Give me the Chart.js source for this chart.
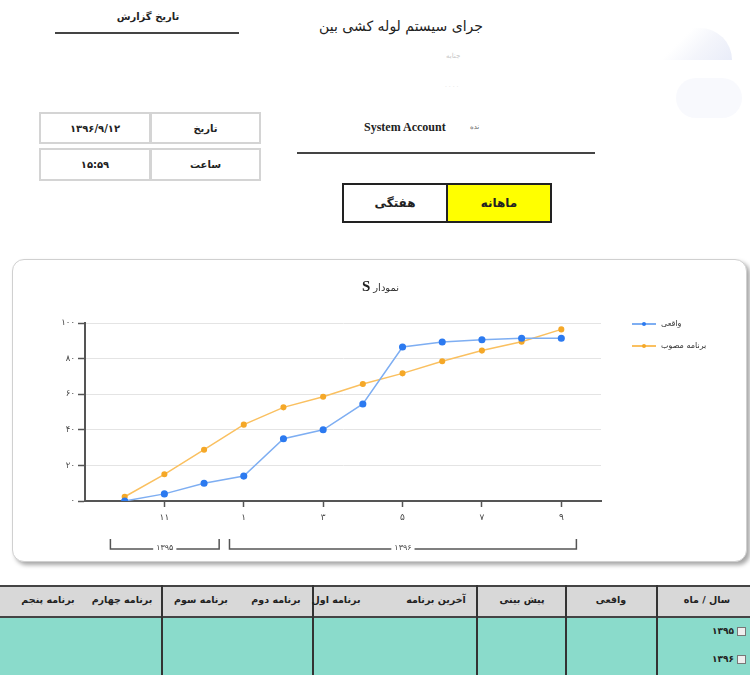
<!DOCTYPE html>
<html lang="fa">
<head>
<meta charset="utf-8">
<title>نمودار S</title>
<script src="https://cdn.jsdelivr.net/npm/chart.js@4.4.1/dist/chart.umd.min.js"></script>
<style>
    html, body { margin: 0; padding: 0; background: #fff; }
    body {
        width: 750px; height: 675px; position: relative; overflow: hidden;
        font-family: "DejaVu Sans", Tahoma, sans-serif; color: #222;
    }
    .abs { position: absolute; }
    .center { display: flex; align-items: center; justify-content: center; }
    .rule { position: absolute; height: 2px; background: #444; }
    .info-cell {
        position: absolute; box-sizing: border-box; border: 2px solid #d4d4d4;
        font-size: 10px; font-weight: bold; direction: rtl;
    }
    .btn {
        position: absolute; box-sizing: border-box; border: 2px solid #222;
        font-size: 12px; font-weight: bold; direction: rtl;
    }
    .card {
        position: absolute; left: 12px; top: 259px; width: 735px; height: 303px;
        box-sizing: border-box; border: 1px solid #d0d0d0; border-radius: 12px;
        background: #fff; box-shadow: 3px 3px 4px rgba(0, 0, 0, 0.35);
    }
    .card canvas { position: absolute; left: 0; top: 0; }
    .grid-head { position: absolute; left: 0; top: 585px; width: 750px; height: 31px; background: #d8d8d8; border-top: 2px solid #444; box-sizing: border-box; }
    .grid-body { position: absolute; left: 0; top: 616px; width: 750px; height: 59px; background: #8adbcb; border-top: 2px solid #444; box-sizing: border-box; }
    .vline { position: absolute; top: 585px; width: 2px; height: 90px; background: #333; }
    .th { position: absolute; top: 594px; width: 90px; margin-left: -45px; text-align: center; font-size: 9.5px; font-weight: bold; direction: rtl; white-space: nowrap; }
    .td { position: absolute; font-size: 9px; font-weight: bold; direction: ltr; white-space: nowrap; }
    .plus { display: inline-block; width: 7px; height: 7px; border: 1px solid #777; background: #eee; vertical-align: middle; margin-left: 3px; }
</style>
</head>
<body>

<!-- report header -->
<div class="abs center" style="left:90px; top:8px; width:116px; height:16px; font-size:10px; font-weight:bold; direction:rtl;">تاریخ گزارش</div>
<div class="rule" style="left:55px; top:32px; width:184px;"></div>

<div class="abs" style="left:300px; top:18px; width:183px; height:22px; overflow:hidden; font-size:14px; direction:rtl; text-align:right; white-space:nowrap;">جرای سیستم لوله کشی بین</div>
<div class="abs" style="left:446px; top:52px; font-size:7px; color:#c8c8c8; direction:rtl;">جنابه</div>
<div class="abs" style="left:445px; top:81px; font-size:6px; color:#e0e0e0;">. . . .</div>

<!-- faint logo -->
<div class="abs" style="left:662px; top:28px; width:70px; height:32px; border-radius:40px 40px 0 0; background:linear-gradient(135deg, #fff 30%, #e8ebf7 60%, #d3daf2 100%); opacity:0.5;"></div>
<div class="abs" style="left:676px; top:78px; width:66px; height:40px; border-radius:30px; background:#f3f5fb; opacity:0.6;"></div>

<div class="info-cell center" style="left:39px; top:112px; width:112px; height:32px;">۱۳۹۶/۹/۱۲</div>
<div class="info-cell center" style="left:150px; top:112px; width:111px; height:32px;">تاریخ</div>
<div class="info-cell center" style="left:39px; top:148px; width:112px; height:33px;">۱۵:۵۹</div>
<div class="info-cell center" style="left:150px; top:148px; width:111px; height:33px;">ساعت</div>

<div class="abs" style="left:364px; top:120px; font-family:'Liberation Serif', serif; font-size:12px; font-weight:bold;">System Account</div>
<div class="abs" style="left:470px; top:123px; font-size:7px; color:#666; direction:rtl;">نده</div>
<div class="rule" style="left:297px; top:152px; width:298px;"></div>

<div class="btn center" style="left:342px; top:183px; width:106px; height:40px; background:#fff;">هفتگی</div>
<div class="btn center" style="left:446px; top:183px; width:106px; height:40px; background:#ffff00;">ماهانه</div>

<!-- chart card -->
<div class="card">
    <canvas id="sCurveChart" width="735" height="303"></canvas>
</div>

<!-- bottom grid -->
<div class="grid-head"></div>
<div class="grid-body"></div>
<div class="vline" style="left:161px;"></div>
<div class="vline" style="left:312px;"></div>
<div class="vline" style="left:476px;"></div>
<div class="vline" style="left:565px;"></div>
<div class="vline" style="left:656px;"></div>

<div class="th" style="left:707px;">سال / ماه</div>
<div class="th" style="left:611px;">واقعی</div>
<div class="th" style="left:522px;">پیش بینی</div>
<div class="th" style="left:436px;">آخرین برنامه</div>
<div class="th" style="left:336px;">برنامه اول</div>
<div class="th" style="left:276px;">برنامه دوم</div>
<div class="th" style="left:201px;">برنامه سوم</div>
<div class="th" style="left:122px;">برنامه چهارم</div>
<div class="th" style="left:48px;">برنامه پنجم</div>

<div class="td" style="right:4px; top:626px;">۱۳۹۵<span class="plus"></span></div>
<div class="td" style="right:4px; top:654px;">۱۳۹۶<span class="plus"></span></div>

<script>
// S-curve data
const monthLabels = ['۱۰', '۱۱', '۱۲', '۱', '۲', '۳', '۴', '۵', '۶', '۷', '۸', '۹'];
const shownMonthIdx = [1, 3, 5, 7, 9, 11];
const actualValues = [0, 4, 10, 14, 35, 40, 54.5, 86.5, 89.3, 90.6, 91.4, 91.4];
const plannedValues = [2.4, 15, 28.8, 42.9, 52.6, 58.6, 65.7, 71.7, 78.5, 84.5, 89.5, 96.4];
const yTickLabels = ['۰', '۲۰', '۴۰', '۶۰', '۸۰', '۱۰۰'];
const yearLabels = ['۱۳۹۵', '۱۳۹۶'];
const yearSpans = [[0, 2], [3, 11]];
const seriesNames = ['واقعی', 'برنامه مصوب'];

const blueLine = 'rgb(126, 174, 242)';
const bluePoint = 'rgb(44, 122, 240)';
const orangeLine = 'rgb(250, 192, 96)';
const orangePoint = 'rgb(245, 168, 40)';
const axisColor = '#555';
const fontFamily = '"DejaVu Sans", Tahoma, sans-serif';

document.addEventListener('DOMContentLoaded', function() {
    const canvas = document.getElementById('sCurveChart');
    if (canvas) {
        initializeSCurve(canvas);
    }
});

// Chart heading: a big serif "S" with the word to its right, centred on the card
const headingPlugin = {
    id: 'heading',
    afterDraw(chart) {
        const ctx = chart.ctx;
        const cx = chart.width / 2;
        const y = 26;
        ctx.save();
        ctx.textBaseline = 'alphabetic';
        ctx.fillStyle = '#222';
        ctx.font = 'bold 15px "Liberation Serif", serif';
        const sWidth = ctx.measureText('S').width;
        ctx.font = '10px ' + fontFamily;
        const wordWidth = ctx.measureText('نمودار').width;
        const left = cx - (sWidth + 3 + wordWidth) / 2;
        ctx.font = 'bold 15px "Liberation Serif", serif';
        ctx.textAlign = 'left';
        ctx.fillText('S', left, y + 5);
        ctx.font = '10px ' + fontFamily;
        ctx.fillStyle = '#333';
        ctx.fillText('نمودار', left + sWidth + 3, y + 5);
        ctx.restore();
    }
};

// Year brackets under the month axis
const yearBracketPlugin = {
    id: 'yearBrackets',
    afterDraw(chart) {
        const ctx = chart.ctx;
        const x = chart.scales.x;
        const y = 289;
        ctx.save();
        ctx.strokeStyle = axisColor;
        ctx.lineWidth = 1.5;
        ctx.font = '8px ' + fontFamily;
        ctx.fillStyle = '#444';
        ctx.textAlign = 'center';
        ctx.textBaseline = 'middle';
        yearSpans.forEach((span, i) => {
            const x1 = x.getPixelForValue(span[0] - 0.36);
            const x2 = x.getPixelForValue(span[1] + 0.38);
            const mid = (x1 + x2) / 2;
            const half = ctx.measureText(yearLabels[i]).width / 2 + 3;
            ctx.beginPath();
            ctx.moveTo(x1, y - 10);
            ctx.lineTo(x1, y);
            ctx.lineTo(mid - half, y);
            ctx.moveTo(mid + half, y);
            ctx.lineTo(x2, y);
            ctx.lineTo(x2, y - 10);
            ctx.stroke();
            ctx.fillText(yearLabels[i], mid, y - 1);
        });
        ctx.restore();
    }
};

// Legend on the right: line with a dot, then the name
const sideLegendPlugin = {
    id: 'sideLegend',
    afterDraw(chart) {
        const ctx = chart.ctx;
        const area = chart.chartArea;
        const x0 = area.right + 31;
        ctx.save();
        ctx.font = '8px ' + fontFamily;
        ctx.textBaseline = 'middle';
        ctx.textAlign = 'left';
        chart.data.datasets.forEach((ds, i) => {
            const y = area.top + 1 + i * 22;
            ctx.strokeStyle = ds.borderColor;
            ctx.lineWidth = 2;
            ctx.beginPath();
            ctx.moveTo(x0, y);
            ctx.lineTo(x0 + 24, y);
            ctx.stroke();
            ctx.fillStyle = ds.pointBackgroundColor;
            ctx.beginPath();
            ctx.arc(x0 + 12, y, 2, 0, Math.PI * 2);
            ctx.fill();
            ctx.fillStyle = '#333';
            ctx.fillText(ds.label, x0 + 29, y);
        });
        ctx.restore();
    }
};

function initializeSCurve(canvas) {
    const ctx = canvas.getContext('2d');

    const chart = new Chart(ctx, {
        type: 'line',
        data: {
            datasets: [{
                label: seriesNames[0],
                data: actualValues.map((v, i) => ({ x: i, y: v })),
                borderColor: blueLine,
                backgroundColor: bluePoint,
                pointBackgroundColor: bluePoint,
                pointBorderColor: bluePoint,
                borderWidth: 1.5,
                pointRadius: 2.8,
                tension: 0
            }, {
                label: seriesNames[1],
                data: plannedValues.map((v, i) => ({ x: i, y: v })),
                borderColor: orangeLine,
                backgroundColor: orangePoint,
                pointBackgroundColor: orangePoint,
                pointBorderColor: orangePoint,
                borderWidth: 1.5,
                pointRadius: 2.3,
                tension: 0
            }]
        },
        options: {
            responsive: false,
            animation: false,
            layout: {
                padding: { left: 0, right: 147, top: 63, bottom: 12 }
            },
            scales: {
                x: {
                    type: 'linear',
                    min: -1,
                    max: 12,
                    afterBuildTicks: function(scale) {
                        scale.ticks = shownMonthIdx.map(v => ({ value: v }));
                    },
                    afterFit: function(scale) {
                        scale.height = 50;
                    },
                    border: { color: axisColor, width: 2 },
                    grid: {
                        drawOnChartArea: false,
                        tickColor: axisColor,
                        tickLength: 6,
                        tickWidth: 1.5
                    },
                    ticks: {
                        autoSkip: false,
                        maxRotation: 0,
                        padding: 5,
                        color: '#444',
                        font: { size: 9, family: fontFamily },
                        callback: function(value) {
                            return monthLabels[value];
                        }
                    }
                },
                y: {
                    min: 0,
                    max: 100,
                    afterFit: function(scale) {
                        scale.width = 72;
                    },
                    border: { color: axisColor, width: 2 },
                    grid: {
                        color: '#e4e4e4',
                        tickColor: axisColor,
                        tickLength: 7,
                        tickWidth: 1.5
                    },
                    ticks: {
                        stepSize: 20,
                        padding: 3,
                        color: '#444',
                        font: { size: 8.5, family: fontFamily },
                        callback: function(value, index) {
                            return yTickLabels[index];
                        }
                    }
                }
            },
            plugins: {
                legend: { display: false },
                tooltip: { enabled: false },
                title: { display: false }
            }
        },
        plugins: [headingPlugin, yearBracketPlugin, sideLegendPlugin]
    });

    window.sCurveChart = chart;
}
</script>
</body>
</html>
